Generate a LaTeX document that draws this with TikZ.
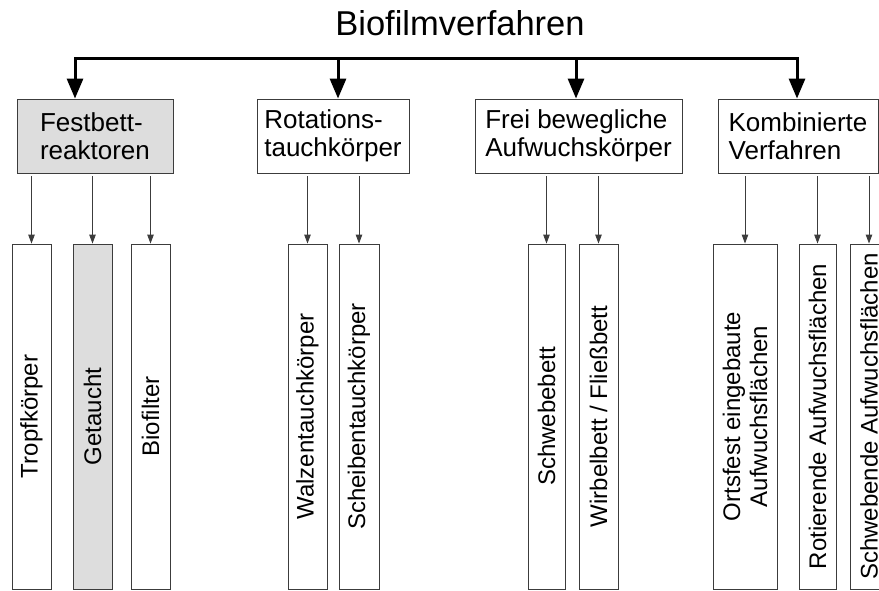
\documentclass[tikz,border=0pt]{standalone}
\usepackage{fontspec}
\setmainfont{Liberation Sans}
\usetikzlibrary{arrows.meta}
\definecolor{boxgray}{RGB}{221,221,221}
\definecolor{linegray}{RGB}{60,60,60}

\begin{document}
\begin{tikzpicture}[x=1pt,y=-1pt,
        bigarrow/.style={line width=3pt,-{Triangle[length=20pt,width=16pt]}},
        smallarrow/.style={line width=0.9pt,draw=linegray,shorten <=3pt,
        -{Triangle[length=9pt,width=6.5pt]}}]
    \tikzstyle{group}=[draw=linegray,line width=0.9pt,minimum height=74pt,inner sep=0pt,align=left,font=\fontsize{26}{28}\selectfont]
    \tikzstyle{kind}=[draw=linegray,line width=0.9pt,rotate=90,minimum width=345pt,inner sep=0pt,align=center,font=\fontsize{24}{27}\selectfont]

    \useasboundingbox (0,0) rectangle (879,590);

    \node[font=\fontsize{34.5}{36}\selectfont,anchor=base] (title) at (460,35) {Biofilmverfahren};

    \node[group,fill=boxgray,minimum width=156pt] (fest) at (95,136) {Festbett-\\reaktoren};
    \node[group,minimum width=152pt] (rota) at (333,136) {Rotations-\\tauchkörper};
    \node[group,minimum width=207pt] (frei) at (578.5,136) {Frei bewegliche\\Aufwuchskörper};
    \node[group,minimum width=160pt] (komb) at (798,136) {Kombinierte\\Verfahren};

    \coordinate (b1) at (75,58);
    \coordinate (b2) at (338,58);
    \coordinate (b3) at (576,58);
    \coordinate (b4) at (797,58);
    \draw[line width=3pt,line cap=rect] (b1) -- (b4);
    \draw[bigarrow] (b1) -- (b1 |- fest.north);
    \draw[bigarrow] (b2) -- (b2 |- rota.north);
    \draw[bigarrow] (b3) -- (b3 |- frei.north);
    \draw[bigarrow] (b4) -- (b4 |- komb.north);

    \node[kind,minimum height=39pt] (tropf) at (31.5,416.5) {Tropfkörper};
    \node[kind,fill=boxgray,minimum height=39pt] (getaucht) at (92.5,416.5) {Getaucht};
    \node[kind,minimum height=39pt] (biofilter) at (150.5,416.5) {Biofilter};
    \node[kind,minimum height=39pt] (walze) at (307.5,416.5) {Walzentauchkörper};
    \node[kind,minimum height=40pt] (scheibe) at (359,416.5) {Scheibentauchkörper};
    \node[kind,minimum height=37pt] (schwebebett) at (546.5,416.5) {Schwebebett};
    \node[kind,minimum height=39pt] (wirbelbett) at (598.5,416.5) {Wirbelbett / Fließbett};
    \node[kind,minimum height=64pt] (ortsfest) at (745,416.5) {Ortsfest eingebaute\\Aufwuchsflächen};
    \node[kind,minimum height=37pt] (rotierend) at (817.5,416.5) {Rotierende Aufwuchsflächen};
    \node[kind,minimum height=37pt] (schwebend) at (869,416.5) {Schwebende Aufwuchsflächen};

    \draw[smallarrow] (fest.south -| tropf.east) -- (tropf.east);
    \draw[smallarrow] (fest.south -| getaucht.east) -- (getaucht.east);
    \draw[smallarrow] (fest.south -| biofilter.east) -- (biofilter.east);
    \draw[smallarrow] (rota.south -| walze.east) -- (walze.east);
    \draw[smallarrow] (rota.south -| scheibe.east) -- (scheibe.east);
    \draw[smallarrow] (frei.south -| schwebebett.east) -- (schwebebett.east);
    \draw[smallarrow] (frei.south -| wirbelbett.east) -- (wirbelbett.east);
    \draw[smallarrow] (komb.south -| ortsfest.east) -- (ortsfest.east);
    \draw[smallarrow] (komb.south -| rotierend.east) -- (rotierend.east);
    \draw[smallarrow] (komb.south -| schwebend.east) -- (schwebend.east);
\end{tikzpicture}
\end{document}
